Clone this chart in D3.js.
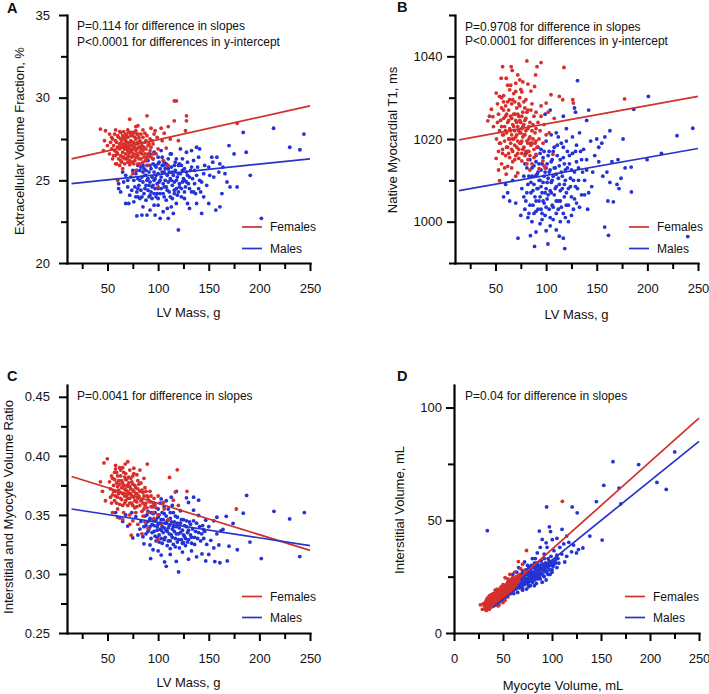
<!DOCTYPE html>
<html><head><meta charset="utf-8">
<script src="https://cdn.jsdelivr.net/npm/d3@7"></script>
<style>
body{margin:0;background:#fff}
svg{display:block}
text{font-family:"Liberation Sans",Arial,Helvetica,sans-serif;fill:#111}
</style>
</head><body>
<svg id="c" width="709" height="694"></svg>
<script>
// ---------- DATA ----------
// Panel A: LV mass (g) vs extracellular volume fraction (%)
const aFemales = [[116,29.8],[118,29.8],[72,28.7],[89,28.9],[128,28.9],[128,28.6],[116,28.6],[43,28.1],[127,28.0],[178,28.45],[78,28.25],[80,28.3],[93,28.15],[103,28.15],[110,28.25],[97,28.0],[106,27.85],[48,28.0],[52,27.8],[58,28.05],[62,27.95],[85,28.05],[99,27.6],[104,27.4],[112,27.5],[95,27.2],[100,26.9],[108,26.95],[47,27.4],[50,27.1],[46,26.8],[52,26.6],[55,26.3],[58,26.0],[62,25.9],[65,25.7],[72,25.95],[78,25.6],[80,26.0],[85,26.1],[90,25.9],[95,26.3],[105,26.2],[100,24.6],[75,25.4],[60,25.0],[110,25.9],[120,27.4],
[55,27.5],[56,27.1],[57,26.8],[57,27.8],[58,26.5],[59,27.3],[60,27.0],[60,26.6],[61,27.6],[61,26.3],[62,27.2],[62,26.9],[63,27.9],[63,26.5],[64,27.4],[64,27.0],[65,26.7],[65,27.7],[66,26.4],[66,27.2],[67,26.9],[67,27.5],[68,26.6],[68,27.1],[68,27.8],[69,26.3],[69,27.3],[70,26.8],[70,27.0],[70,27.6],[71,26.5],[71,27.2],[72,27.9],[72,26.9],[72,26.2],[73,27.4],[73,26.7],[74,27.1],[74,26.4],[75,27.7],[75,26.9],[76,27.3],[76,26.6],[77,27.0],[77,26.2],[78,27.5],[78,26.8],[79,27.2],[80,26.5],[80,27.8],[81,27.0],[82,26.7],[82,27.4],[83,26.3],[84,27.1],[85,27.6],[85,26.8],[86,26.4],[87,27.3],[88,26.9],[89,27.7],[90,26.6],[91,27.2],[92,26.8],[64,26.1],[67,26.0],[70,26.1],[59,26.0],[75,26.1],[82,26.0],[88,26.2],[93,27.0],[95,26.6],[54,26.9],[53,27.3],[66,27.95],[70,28.05],[74,27.9],[78,28.0],[60,27.7],[83,27.8],[87,27.85],[92,27.5],
[54,27.6],[56,26.5],[58,27.4],[59,26.7],[61,27.0],[63,27.2],[63,26.2],[65,27.0],[65,26.4],[66,27.6],[67,26.3],[68,27.4],[69,26.9],[69,27.7],[70,26.4],[71,27.9],[71,26.9],[72,27.3],[73,26.1],[73,27.7],[74,26.8],[75,27.3],[76,26.0],[76,27.9],[77,27.6],[78,26.4],[79,26.9],[79,27.8],[80,27.3],[81,26.3],[81,27.6],[82,27.0],[83,27.3],[84,26.6],[86,27.0],[87,26.6],[88,27.4],[89,26.4],[90,27.1],[91,26.5],[93,26.4],[94,27.4],[96,27.8],[98,26.6],[63,27.5],[67,27.0],[71,26.7],[75,26.5],[79,26.6],[83,26.9]];
const aMales = [[214,28.15],[184,27.9],[244,27.8],[230,27.0],[240,26.85],[170,27.1],[175,26.6],[187,26.7],[191,25.3],[178,24.6],[202,22.7],[120,22.0],[143,23.0],[102,22.7],[79,22.85],[84,22.9],[89,22.9],[68,23.6],[71,23.6],[61,24.5],[61,24.8],[153,26.4],[158,26.4],[161,26.0],[154,26.1],[160,25.5],[164,25.8],[150,25.8],[155,25.2],[148,24.7],[163,24.2],[168,24.9],[171,24.6],[166,25.4],[142,24.3],[145,24.0],[150,23.6],[157,23.2],[161,23.4],[138,23.6],[131,23.3],[126,23.9],[129,23.6],[133,24.3],[141,25.0],[138,25.3],[145,25.4],[151,25.3],[140,26.4],[138,27.0],[141,26.9],[128,26.7],[133,26.8],[122,26.9],[135,26.2],[129,26.1],[112,26.6],[118,26.3],[88,26.2],[92,26.6],[100,26.4],[80,25.9],[75,25.6],[66,24.9],[63,24.3],[70,24.6],[72,24.1],[76,23.7],[85,23.4],[92,23.2],[96,23.5],[105,23.1],[110,22.7],[113,23.4],[118,23.6],[123,24.0],[97,22.9],[126,25.0],[131,25.2],[136,24.8],[140,24.5],[124,25.6],[121,26.0],[116,24.2],[108,23.8],[100,23.9],[88,23.8],[80,24.0],
[76,25.0],[77,24.6],[78,25.4],[79,24.3],[80,25.1],[81,24.7],[82,25.6],[83,24.4],[84,25.2],[85,24.9],[86,25.7],[86,24.2],[87,25.3],[88,24.7],[89,25.9],[89,25.0],[90,24.4],[91,25.5],[92,24.9],[92,25.9],[93,24.3],[94,25.2],[95,24.7],[95,26.0],[96,25.5],[97,24.5],[97,25.1],[98,25.8],[99,24.8],[99,24.2],[100,25.4],[101,26.1],[101,24.9],[102,25.7],[103,24.5],[103,25.2],[104,25.9],[105,24.8],[105,24.2],[106,25.5],[107,25.0],[108,26.0],[108,24.6],[109,25.3],[110,24.9],[110,25.7],[111,24.3],[112,25.1],[113,25.8],[114,24.7],[115,25.3],[116,24.9],[117,25.6],[118,24.5],[119,25.2],[120,25.9],[121,24.8],[122,25.4],[123,24.5],[125,25.1],[127,24.6],[128,25.5],[130,24.8],[132,25.6],[135,24.3],[85,25.9],[90,26.2],[95,26.3],[104,26.4],[110,26.3],[83,25.8],[78,24.0],[82,23.9],[94,23.9],[106,24.0],[114,23.9],[120,24.3],[73,25.2],[74,24.4],[70,25.0],[68,25.3],[65,25.5],[91,24.0],[98,24.0],[117,26.1],[124,26.3],[113,26.6],[103,26.8],[96,26.7],
[79,25.6],[80,24.5],[82,25.0],[84,24.0],[85,25.5],[87,24.5],[88,25.6],[90,25.1],[91,24.7],[93,25.7],[94,24.6],[96,24.2],[96,25.0],[98,25.3],[100,24.5],[100,26.0],[102,24.2],[102,25.0],[104,25.5],[106,24.6],[106,26.1],[107,25.7],[109,24.4],[109,25.9],[111,25.5],[112,24.0],[113,25.0],[114,25.5],[116,25.9],[116,24.4],[118,25.0],[119,24.1],[120,25.4],[121,24.6],[123,25.9],[124,24.9],[126,24.3],[126,25.7],[128,24.9],[129,25.3],[131,24.5],[133,25.8],[134,25.1],[136,25.6],[137,24.2],[139,25.8],[143,24.9],[146,25.9],[100,23.5],[109,23.3],[115,23.0],[92,24.1],[88,25.3],[97,25.9],[105,25.9]];
const aFitFemales = [[14.5,26.3],[250,29.5]];
const aFitMales = [[14.5,24.8],[250,26.3]];

// Panel B: LV mass (g) vs native myocardial T1 (ms)
const bFemales = [[81,1038.9],[57,1037.5],[65.5,1037.5],[66.5,1036.6],[91,1037.5],[95,1038.5],[55.6,1034.7],[60.6,1034.7],[117.6,1037.3],[72,1035.5],[74,1034.3],[70,1033.5],[77,1033.8],[82,1033.3],[89.6,1035.5],[88.6,1032.7],[50.7,1031.1],[54,1030.3],[64,1031.9],[68,1031],[76,1031.4],[85,1031.6],[104.8,1030.7],[113,1030.3],[116.4,1029.5],[126.3,1029.5],[126.9,1028.7],[100,1028.7],[95,1028],[42.4,1024.4],[44,1025.5],[47.4,1025.4],[46,1027.2],[48,1023],[50.7,1015.3],[60.6,1011.5],[54,1009.9],[62,1013.4],[67,1014.5],[72,1011.8],[70,1011],[73,1015.3],[76,1014.7],[90,1016.3],[96.8,1014.7],[98,1013.5],[93,1012.8],[99,1013],[106.7,1016.3],[177.5,1029.7],[53,1012.5],[57,1016.5],[84,1012.5],[88,1017.5],[103,1021.5],[108,1025],[102,1026.5],[98,1023.5],[94,1022],[52,1028.5],[58,1029],[62,1033],[80,1029.5],[86,1028.5],[90,1026.5],
[53,1026],[54,1022],[55,1024.5],[55,1019],[56,1027.5],[57,1021],[57,1017.5],[58,1025],[59,1023],[59,1019.5],[60,1028],[60,1016],[61,1021.5],[61,1026],[62,1018],[62,1024],[63,1020],[63,1027],[64,1022.5],[64,1015.5],[65,1025.5],[65,1019],[66,1021],[66,1028.5],[67,1023.5],[67,1017],[68,1026],[68,1020],[69,1022],[69,1018.5],[70,1024.5],[70,1016],[71,1021],[71,1027.5],[72,1019.5],[72,1023],[73,1025.5],[73,1017.5],[74,1021.5],[74,1028],[75,1019],[75,1024],[76,1022.5],[76,1016.5],[77,1026.5],[77,1020.5],[78,1018],[78,1023.5],[79,1021],[80,1025],[80,1017],[81,1019.5],[82,1022.5],[82,1027],[83,1020],[84,1024],[84,1016],[85,1018.5],[86,1022],[87,1020],[88,1025.5],[89,1019],[90,1022.5],[91,1018],[58,1030.5],[64,1029.5],[69,1029],[74,1030],[79,1027.5],[51,1020],[53,1017],[56,1014],[59,1013],[66,1013],[82,1015],[86,1014],
[52,1024],[54,1019],[56,1023],[56,1030],[58,1021],[58,1027],[60,1022],[60,1025.5],[61,1018],[62,1029],[63,1024.5],[63,1016.5],[64,1020],[65,1022],[65,1033],[66,1017.5],[66,1025],[67,1020],[67,1029.5],[68,1023],[69,1026],[69,1015],[70,1020.5],[70,1031.5],[71,1018],[71,1024],[72,1026],[72,1016.5],[73,1022],[73,1028.5],[74,1019],[74,1024.5],[75,1021.5],[75,1032],[76,1019.5],[76,1025.5],[77,1017.5],[77,1023],[78,1021],[78,1029],[79,1016],[79,1024.5],[80,1022],[81,1026.5],[81,1014],[82,1019],[83,1023],[83,1017],[84,1020.5],[85,1027],[86,1019],[87,1023.5],[88,1015.5],[89,1021.5],[90,1019.5],[92,1024],[93,1020],[95,1025.5],[97,1019],[100,1021]];
const bMales = [[131,1034.1],[201,1030.3],[186.5,1027.2],[244.9,1022.6],[229.3,1020.8],[213.9,1016.5],[199.7,1015],[184.2,1007.2],[174,1010.5],[170,1009],[184,1013.2],[166.4,1004.8],[161,1005],[157.8,998.7],[161.6,996.7],[239.9,996.4],[118.4,993.5],[101.8,994.6],[88.6,994],[72.2,996],[117,996],[113,996.5],[90,997.5],[100,997.8],[84.5,996.6],[99,1026],[104,1027],[117,1025.5],[128,1027.5],[129,1026.5],[142,1027],[140,1024.5],[120,1022.5],[133,1021.5],[150,1020],[155,1019],[148,1016],[158,1020.5],[152,1018],[163,1022],[165,1014.5],[171,1015],[146,1012],[152,1014.5],[160,1012],[145,1008.5],[156,1011],[163,1009.5],[138,1006.5],[130,1004.5],[141,1003],[125,1001.5],[122,1000],[104,999],[94,999.5],[107,1000.5],[110,998],[82,1001],[60,1009],[64,1005],[62,1007],[70,1004.5],[58,1006],[75,1001.5],[67,1010],[140,1015],[144,1019.5],[137,1017.5],[130,1018.5],[126,1020.5],[110,1021.5],[95,1017.5],[176,1020],[172,1008],[178,1013],
[76,1008],[78,1011],[80,1005],[81,1013],[82,1009],[83,1002],[84,1015],[85,1007],[86,1011],[87,1004],[88,1013.5],[88,1009],[89,1006],[90,1016],[90,1002.5],[91,1011.5],[92,1008],[93,1014],[93,1005],[94,1010],[95,1003],[95,1012.5],[96,1007],[97,1015.5],[97,1009.5],[98,1004.5],[99,1012],[99,1001.5],[100,1008],[101,1014],[101,1005.5],[102,1010.5],[103,1017],[103,1003],[104,1007.5],[104,1012.5],[105,1009.5],[106,1015],[106,1004],[107,1011],[108,1006.5],[108,1018],[109,1013],[110,1002],[110,1008.5],[111,1016],[112,1010.5],[112,1005],[113,1013.5],[114,1007.5],[115,1019],[115,1003.5],[116,1011],[117,1015.5],[118,1006],[118,1009],[119,1012.5],[120,1004],[121,1017],[122,1008],[123,1014],[124,1010.5],[125,1006],[126,1016.5],[127,1003],[128,1012],[129,1008.5],[130,1014.5],[132,1010],[134,1017],[135,1006.5],[136,1012],[80,1016.5],[85,1019],[92,1018],[100,1019.5],[105,1021],[112,1020.5],[120,1019.5],[79,1003],[86,1000],[96,1000.5],[114,1000],[119,1001],
[78,1006],[79,1014],[81,1007],[82,1017],[83,1011],[84,1004],[85,1009.5],[86,1013],[87,1007.5],[88,1002],[89,1011],[90,1005],[90,1014.5],[91,1008],[92,1003],[92,1012],[93,1010],[94,1016.5],[94,1006],[95,1008.5],[96,1014],[96,1002],[97,1005],[98,1011],[98,1017],[99,1007],[100,1003.5],[100,1013],[101,1009.5],[102,1016],[102,1006.5],[103,1012],[104,1001],[105,1014.5],[105,1007],[106,1010],[107,1003.5],[107,1017],[108,1013],[109,1008],[110,1005],[110,1011.5],[111,1018.5],[112,1003],[113,1009],[114,1015],[114,1005],[115,1012],[116,1008],[117,1002],[117,1018],[118,1014],[119,1010],[120,1007],[121,1013],[122,1004],[123,1016],[124,1008.5],[125,1012.5],[127,1010],[128,1005.5],[129,1017],[131,1008],[132,1013],[133,1003.5],[135,1015],[138,1010],[140,1012.5],[142,1007]];
const bFitFemales = [[14,1019.8],[250,1030.3]];
const bFitMales = [[14,1007.5],[250,1017.7]];

// Panel C: LV mass (g) vs interstitial / myocyte volume ratio
const cFemales = [[49.8,0.3975],[46.5,0.394],[67.5,0.393],[89.3,0.393],[118.9,0.3882],[111.3,0.3817],[116.9,0.3693],[128.5,0.370],[177.2,0.355],[99.8,0.350],[106,0.355],[93,0.357],[73.4,0.3328],[72,0.342],[80,0.342],[99.8,0.329],[103,0.342],[110,0.346],[96,0.347],[43,0.378],[45,0.370],[48,0.362],[55,0.352],[60,0.348],[65,0.346],[75,0.345],[85,0.349],[90,0.3385],[95,0.360],[100,0.366],[105,0.3605],[62,0.390],[76,0.3895],[82,0.388],[58,0.392],[70,0.395],[120,0.358],[115,0.3625],[87,0.344],[84,0.334],
[52,0.378],[53,0.372],[54,0.383],[55,0.367],[56,0.375],[57,0.380],[57,0.362],[58,0.370],[59,0.386],[60,0.374],[60,0.365],[61,0.379],[62,0.369],[62,0.359],[63,0.383],[64,0.373],[64,0.363],[65,0.377],[66,0.368],[66,0.386],[67,0.372],[67,0.360],[68,0.380],[69,0.366],[69,0.375],[70,0.370],[70,0.358],[71,0.382],[72,0.364],[72,0.374],[73,0.368],[74,0.378],[74,0.360],[75,0.371],[76,0.365],[77,0.375],[77,0.356],[78,0.368],[79,0.361],[80,0.372],[81,0.366],[82,0.358],[83,0.377],[84,0.363],[85,0.369],[86,0.355],[87,0.373],[88,0.360],[89,0.366],[90,0.352],[91,0.362],[92,0.370],[94,0.357],[96,0.364],[98,0.356],[58,0.389],[65,0.390],[72,0.388],[79,0.384],[86,0.381],[54,0.360],[60,0.355],[66,0.352],[72,0.350],[78,0.352],[84,0.353],[68,0.385],[75,0.383],[61,0.371],[80,0.379],
[53,0.365],[55,0.381],[56,0.370],[57,0.386],[58,0.366],[59,0.377],[59,0.360],[60,0.383],[61,0.368],[62,0.376],[63,0.364],[63,0.388],[64,0.379],[65,0.368],[65,0.358],[66,0.375],[67,0.382],[67,0.366],[68,0.371],[68,0.362],[69,0.380],[70,0.374],[70,0.364],[71,0.368],[71,0.377],[72,0.360],[73,0.372],[73,0.381],[74,0.366],[75,0.376],[75,0.358],[76,0.370],[76,0.385],[77,0.362],[78,0.373],[79,0.368],[79,0.357],[80,0.364],[81,0.376],[82,0.370],[83,0.362],[84,0.371],[85,0.360],[86,0.366],[87,0.358],[88,0.370],[89,0.356],[90,0.365],[92,0.361],[93,0.366],[95,0.352],[97,0.359]];
const cMales = [[187.4,0.3665],[167.3,0.3488],[201.9,0.313],[214.4,0.353],[229.9,0.3466],[244.4,0.352],[239.9,0.3147],[190.7,0.327],[178.2,0.3205],[168.3,0.311],[184.1,0.3515],[174,0.3428],[164,0.3377],[120.2,0.3017],[92.6,0.313],[106.4,0.3102],[117.9,0.3106],[143.3,0.317],[150,0.3165],[156,0.3105],[161,0.3095],[147,0.311],[130,0.3125],[138,0.3145],[155,0.322],[160,0.3245],[152,0.3285],[145,0.330],[158,0.334],[162,0.3365],[150,0.340],[155,0.345],[158,0.348],[147,0.3455],[140,0.3495],[135,0.354],[130,0.3605],[128,0.3645],[135,0.365],[140,0.3625],[118,0.370],[113,0.365],[108,0.362],[103,0.3635],[122,0.3535],[145,0.3375],[170,0.3235],[133,0.3195],[124,0.3185],[112,0.3165],[100,0.3195],[95,0.3205],[86,0.3255],[80,0.333],[75,0.3305],[70,0.3405],[65,0.3445],[62,0.3475],[68,0.350],[58,0.352],[82,0.338],[108,0.3065],[103,0.316],[125,0.3265],
[86,0.340],[87,0.349],[88,0.334],[89,0.344],[90,0.353],[91,0.338],[92,0.347],[93,0.330],[94,0.342],[95,0.351],[96,0.336],[97,0.345],[98,0.328],[99,0.340],[100,0.355],[100,0.348],[101,0.333],[102,0.343],[103,0.337],[104,0.352],[104,0.326],[105,0.346],[106,0.339],[107,0.331],[108,0.349],[108,0.343],[109,0.336],[110,0.355],[110,0.328],[111,0.341],[112,0.347],[113,0.333],[114,0.338],[115,0.352],[115,0.325],[116,0.344],[117,0.330],[118,0.340],[119,0.348],[120,0.334],[121,0.322],[122,0.343],[123,0.329],[124,0.337],[125,0.346],[126,0.332],[127,0.324],[128,0.340],[129,0.335],[130,0.329],[131,0.344],[132,0.333],[133,0.326],[134,0.338],[136,0.331],[138,0.343],[140,0.335],[142,0.328],[144,0.341],[95,0.357],[102,0.360],[106,0.357],[114,0.358],[99,0.331],[112,0.3215],[119,0.327],[92,0.3245],[85,0.3315],[83,0.3445],[78,0.3485],[74,0.352],
[88,0.341],[89,0.350],[90,0.336],[91,0.345],[92,0.340],[93,0.352],[94,0.335],[95,0.346],[96,0.341],[97,0.332],[97,0.352],[98,0.346],[99,0.337],[100,0.342],[101,0.350],[101,0.327],[102,0.338],[103,0.346],[103,0.330],[104,0.340],[105,0.335],[106,0.351],[106,0.329],[107,0.343],[108,0.337],[109,0.345],[109,0.324],[110,0.339],[111,0.334],[112,0.352],[112,0.328],[113,0.344],[114,0.331],[115,0.340],[116,0.336],[117,0.349],[117,0.323],[118,0.334],[119,0.343],[120,0.329],[121,0.339],[122,0.335],[123,0.346],[124,0.326],[125,0.333],[126,0.341],[127,0.330],[128,0.345],[129,0.327],[130,0.337],[132,0.342],[133,0.331],[135,0.345],[136,0.325],[137,0.336],[139,0.330],[141,0.340],[143,0.334],[146,0.336],[148,0.325]];
const cFitFemales = [[14.5,0.3825],[250,0.320]];
const cFitMales = [[14.5,0.355],[250,0.324]];

// Panel D: myocyte volume (mL) vs interstitial volume (mL)
const dFemales = [[110.6,58.4],[74,36.6],[65.7,31.7],[52.1,24.5],[70,30.5],[68,28.5],[62,27],[57,26],[72,27.5],[66,24.5],[27,12.5],[29,10.5],[33,10],[36,10.5],[45,12],[50,13.5],[55,16],[60,18.5],[48,20.5],[42,19],[38,17],[34,15.5],
[31,12],[32,13.5],[33,11.5],[34,13],[35,12],[35,14.5],[36,13.5],[37,11.5],[37,15],[38,13],[38,16],[39,14],[39,12],[40,15.5],[40,13],[41,17],[41,14.5],[42,12.5],[42,16],[43,14],[43,18],[44,15.5],[44,13],[45,17],[45,14.5],[46,19],[46,16],[47,14],[47,18],[48,15.5],[48,17],[49,19.5],[49,16.5],[50,15],[50,18.5],[51,20.5],[51,17],[52,16],[52,19],[53,21.5],[53,18],[54,17],[54,20],[55,19],[55,22],[56,18],[56,21],[57,20],[57,23],[58,19],[58,22],[59,21],[59,24],[60,20],[60,23],[61,22],[62,24],[62,21],[63,23],[64,22.5],[64,25],[65,24],[66,23],[67,25.5],[36,16.5],[40,17.5],[44,19.5],[33,14.5],[30,13],[50,21.5],[55,24],[46,12.5],[52,14.5],[57,17.5],[61,19],
[32,11],[33,12.5],[34,11.5],[35,13.5],[36,12],[36,14.5],[37,13],[38,14.5],[38,11.5],[39,15],[39,13],[40,14],[40,16.5],[41,13],[41,15.5],[42,14.5],[42,17.5],[43,15.5],[43,13],[44,16.5],[44,14],[45,15.5],[45,18.5],[46,14.5],[46,17.5],[47,16],[47,19.5],[48,14],[48,18.5],[49,15],[49,17.5],[50,16.5],[50,20],[51,18],[51,15.5],[52,17.5],[52,20.5],[53,19.5],[53,16.5],[54,18.5],[54,21.5],[55,17.5],[55,20.5],[56,19.5],[56,22.5],[57,18.5],[57,21.5],[58,20.5],[58,23.5],[59,19.5],[59,22.5],[60,21.5],[60,24.5],[61,20.5],[61,23.5],[62,22.5],[63,21.5],[63,24.5],[65,22.5],[66,25.5]];
const dMales = [[162.2,76],[188.4,74.7],[225.2,80.3],[207.1,66.8],[216.6,63.7],[168.4,64.3],[152.8,65.5],[145.3,58.3],[170.3,57.3],[151.2,41.2],[138.6,43],[120.6,55.9],[125.7,53.3],[94.5,55.9],[110.2,46],[87.1,45.2],[97.3,47.1],[98.5,45],[100.3,41.4],[90,41.5],[94,40],[131.5,37.7],[117.2,40.2],[122,39],[112,39.5],[127,37],[120,36],[108,38],[105,42],[115,43],[34,45.4],[95,38],[102,36.5],[110,35],[115,34],[125,35.5],[104,33],[98,31],[113,31.5],[92,35],[85,35.5],[88,38],[80,33],[75,30],[72,31.5],[66,29],[60,26],[55,22.5],[50,18],[52,15.5],[47,14.5],[58,17.5],[65,18],[70,19],[76,20.5],[82,21],[90,22.5],[96,26],[100,28],[105,29],
[60,21],[62,23],[63,19.5],[64,25],[65,21.5],[66,23.5],[67,20],[68,26],[68,22],[69,24],[70,21.5],[71,27],[71,23],[72,25],[73,22],[73,28],[74,24],[75,26.5],[75,22.5],[76,24.5],[77,28.5],[77,23],[78,26],[79,24],[79,30],[80,27],[80,22.5],[81,25],[82,29],[82,23.5],[83,26.5],[84,31],[84,24.5],[85,28],[86,25.5],[86,30],[87,27],[88,32],[88,24],[89,28.5],[90,26],[90,30.5],[91,27.5],[92,33],[92,25],[93,29],[94,31],[95,27.5],[96,33],[97,30],[98,28],[99,34],[100,31.5],[101,29.5],[103,32],[105,34.5],[107,31],[74,19.5],[78,21],[84,22],[94,23.5],[70,27.5],[76,29.5],[83,33],[64,27],[58,21],[61,17.5],[56,19],
[58,19],[60,23],[61,20],[62,21.5],[63,22.5],[64,20],[65,23],[66,21],[66,25],[67,22.5],[68,20.5],[68,24],[69,26],[70,23],[70,20],[71,25],[72,21.5],[72,27],[73,24],[74,22],[74,26],[75,28],[75,24],[76,21.5],[76,27],[77,25],[78,23],[78,28],[79,26.5],[80,24],[80,29],[81,27],[82,25],[82,31],[83,28],[84,26],[84,29.5],[85,24],[85,31],[86,27.5],[87,29],[87,25],[88,30],[88,26.5],[89,32],[90,28],[91,30],[91,25.5],[92,28],[93,31],[94,27],[95,30],[96,29],[97,32],[98,26],[99,30],[100,27],[102,30.5],[104,31],[106,33]];
const dFitFemales = [[30,10.0],[250,95.3]];
const dFitMales = [[40,11.3],[250,85]];

// Ticks
const lvMassTicks = [25,50,75,100,125,150,175,200,225,250];
const lvMassLabels = [50,100,150,200,250];
const myoTicks = [0,25,50,75,100,125,150,175,200,225,250];
const myoLabels = [0,50,100,150,200,250];
const aYTicks = [20,22.5,25,27.5,30,32.5,35];
const aYLabels = [20,25,30,35];
const bYTicks = [990,1000,1010,1020,1030,1040,1050];
const bYLabels = [1000,1020,1040];
const cYTicks = [0.25,0.275,0.30,0.325,0.35,0.375,0.40,0.425,0.45];
const cYLabels = [0.25,0.30,0.35,0.40,0.45];
const dYTicks = [0,25,50,75,100];
const dYLabels = [0,50,100];

const seriesNames = ["Females","Males"];

// ---------- DRAW ----------
const svg = d3.select("#c");
const RED = "#d72f2b", BLUE = "#2333d6";
const RED_LINE = "#d0302e", BLUE_LINE = "#2635c8";
const has = (arr, v) => arr.some(a => Math.abs(a - v) < 1e-9);

function panel(cfg) {
  const x = d3.scaleLinear().domain(cfg.xDomain).range(cfg.xRange);
  const y = d3.scaleLinear().domain(cfg.yDomain).range(cfg.yRange);
  const g = svg.append("g");

  g.append("g").selectAll("circle").data(cfg.males).join("circle")
    .attr("cx", d => x(d[0])).attr("cy", d => y(d[1])).attr("r", 1.9).attr("fill", BLUE);
  g.append("g").selectAll("circle").data(cfg.females).join("circle")
    .attr("cx", d => x(d[0])).attr("cy", d => y(d[1])).attr("r", 1.9).attr("fill", RED);

  const line = d3.line().x(d => x(d[0])).y(d => y(d[1]));
  g.append("path").datum(cfg.fitF).attr("d", line).attr("fill", "none").attr("stroke", RED_LINE).attr("stroke-width", 1.7);
  g.append("path").datum(cfg.fitM).attr("d", line).attr("fill", "none").attr("stroke", BLUE_LINE).attr("stroke-width", 1.7);

  // x axis
  const gx = g.append("g").attr("transform", `translate(0,${cfg.yRange[0]})`)
    .call(d3.axisBottom(x).tickValues(cfg.xTicks)
      .tickFormat(d => has(cfg.xLabels, d) ? d : "")
      .tickSize(8).tickSizeOuter(0).tickPadding(13));
  gx.select(".domain").attr("stroke", "#000").attr("stroke-width", 2.2).attr("stroke-linecap", "square");
  gx.selectAll(".tick line").attr("stroke", "#000").attr("stroke-width", 2)
    .attr("y2", d => has(cfg.xLabels, d) ? 8 : 6);
  gx.selectAll(".tick text").attr("font-size", 13).attr("font-family", null).attr("fill", "#111");

  // y axis
  const gy = g.append("g").attr("transform", `translate(${cfg.xRange[0]},0)`)
    .call(d3.axisLeft(y).tickValues(cfg.yTicks)
      .tickFormat(d => has(cfg.yLabels, d) ? cfg.yFmt(d) : "")
      .tickSize(8).tickSizeOuter(0).tickPadding(cfg.yPad));
  gy.select(".domain").attr("stroke", "#000").attr("stroke-width", 2.2).attr("stroke-linecap", "square");
  gy.selectAll(".tick line").attr("stroke", "#000").attr("stroke-width", 2)
    .attr("x2", d => has(cfg.yLabels, d) ? -8 : -6);
  gy.selectAll(".tick text").attr("font-size", 13).attr("font-family", null).attr("fill", "#111");

  // titles
  g.append("text").attr("x", cfg.xTitle[1]).attr("y", cfg.xTitle[2]).attr("text-anchor", "middle")
    .attr("font-size", 13).text(cfg.xTitle[0]);
  g.append("text").attr("transform", `translate(${cfg.yTitle[1]},${cfg.yTitle[2]}) rotate(-90)`)
    .attr("text-anchor", "middle").attr("font-size", 13).text(cfg.yTitle[0]);

  // panel letter
  g.append("text").attr("x", cfg.letter[1]).attr("y", cfg.letter[2]).attr("font-size", 14.5)
    .attr("font-weight", "bold").attr("fill", "#000").text(cfg.letter[0]);

  // annotations
  cfg.notes.forEach(n => g.append("text").attr("x", n[1]).attr("y", n[2]).attr("font-size", 12).text(n[0]));

  // legend
  const lg = cfg.legend;
  [[RED_LINE, seriesNames[0], lg.y0], [BLUE_LINE, seriesNames[1], lg.y1]].forEach(r => {
    g.append("line").attr("x1", lg.x).attr("x2", lg.x + 20).attr("y1", r[2]).attr("y2", r[2])
      .attr("stroke", r[0]).attr("stroke-width", 1.7);
    g.append("text").attr("x", lg.x + 28).attr("y", r[2] + 4.3).attr("font-size", 12).text(r[1]);
  });
}

const intFmt = d => String(d);
const decFmt = d3.format(".2f");

panel({
  females: aFemales, males: aMales, fitF: aFitFemales, fitM: aFitMales,
  xDomain: [10, 250], xRange: [67, 310], yDomain: [20, 35], yRange: [263, 15],
  xTicks: lvMassTicks, xLabels: lvMassLabels, yTicks: aYTicks, yLabels: aYLabels, yFmt: intFmt, yPad: 9,
  xTitle: ["LV Mass, g", 188.5, 317], yTitle: ["Extracellular Volume Fraction, %", 24, 141],
  letter: ["A", 7, 13],
  notes: [["P=0.114 for difference in slopes", 77, 30], ["P<0.0001 for differences in y-intercept", 77, 46]],
  legend: {x: 242, y0: 227, y1: 248.5}
});
panel({
  females: bFemales, males: bMales, fitF: bFitFemales, fitM: bFitMales,
  xDomain: [10, 250], xRange: [455, 698], yDomain: [990, 1050], yRange: [263, 15],
  xTicks: lvMassTicks, xLabels: lvMassLabels, yTicks: bYTicks, yLabels: bYLabels, yFmt: intFmt, yPad: 4.5,
  xTitle: ["LV Mass, g", 576.5, 319], yTitle: ["Native Myocardial T1, ms", 397, 140],
  letter: ["B", 397, 12],
  notes: [["P=0.9708 for difference in slopes", 465, 30.5], ["P<0.0001 for differences in y-intercept", 465, 45]],
  legend: {x: 629, y0: 227, y1: 248.5}
});
panel({
  females: cFemales, males: cMales, fitF: cFitFemales, fitM: cFitMales,
  xDomain: [10, 250], xRange: [67, 310], yDomain: [0.25, 0.46], yRange: [633, 385],
  xTicks: lvMassTicks, xLabels: lvMassLabels, yTicks: cYTicks, yLabels: cYLabels, yFmt: decFmt, yPad: 9,
  xTitle: ["LV Mass, g", 188.5, 687], yTitle: ["Interstitial and Myocyte Volume Ratio", 13, 507],
  letter: ["C", 7, 381],
  notes: [["P=0.0041 for difference in slopes", 77, 399.5]],
  legend: {x: 242, y0: 596.5, y1: 617.5}
});
panel({
  females: dFemales, males: dMales, fitF: dFitFemales, fitM: dFitMales,
  xDomain: [0, 250], xRange: [454, 699], yDomain: [0, 110], yRange: [633, 385],
  xTicks: myoTicks, xLabels: myoLabels, yTicks: dYTicks, yLabels: dYLabels, yFmt: intFmt, yPad: 4,
  xTitle: ["Myocyte Volume, mL", 563, 690], yTitle: ["Interstitial Volume, mL", 404, 510],
  letter: ["D", 397, 381],
  notes: [["P=0.04 for difference in slopes", 465, 400]],
  legend: {x: 625, y0: 596.5, y1: 617.5}
});
</script>
</body></html>
